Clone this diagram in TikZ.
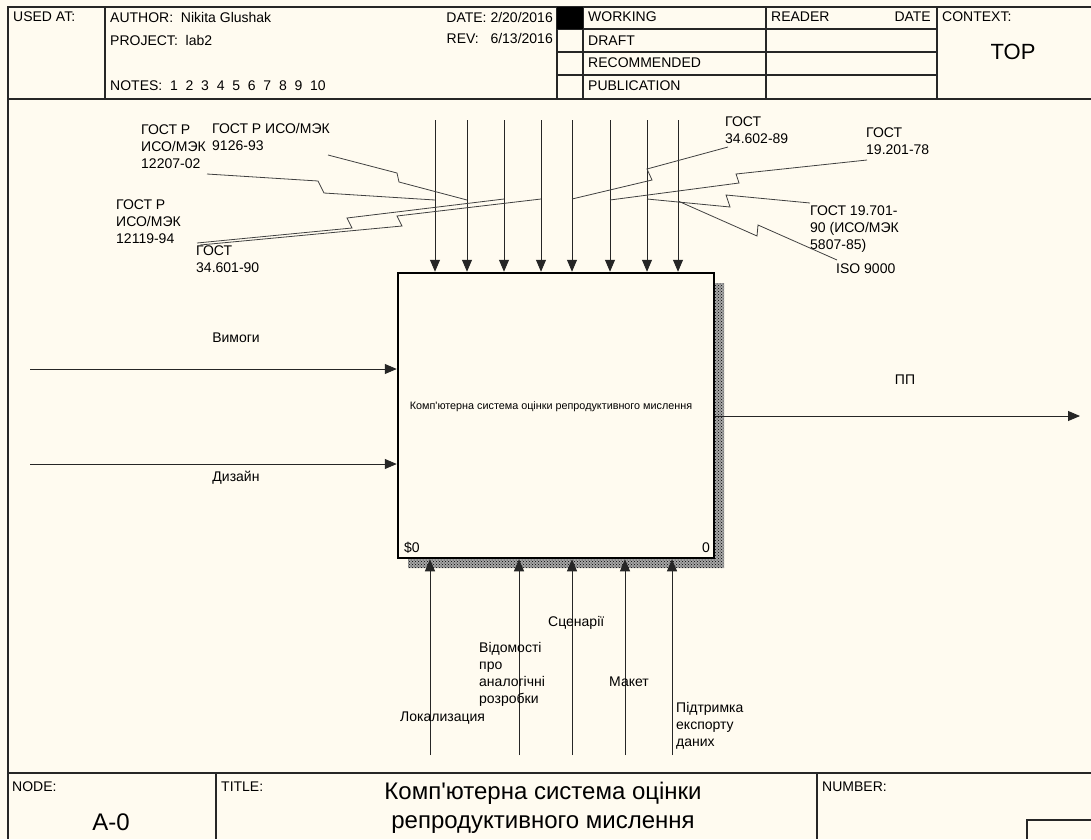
\documentclass[tikz,border=0pt]{standalone}
\usepackage{fontspec}
\setmainfont{Liberation Sans}
\usetikzlibrary{arrows.meta,patterns}
\definecolor{paper}{HTML}{FFFBF0}
\tikzset{
  frame/.style={line width=1.2pt, black!85},
  txt/.style={font=\fontsize{14}{17}\selectfont, inner sep=0pt},
  lbl/.style={txt, align=left, anchor=north west},
  arr/.style={->, line width=0.9pt, black!85},
  sq/.style={line width=0.8pt, black!75},
  fnbox/.style={draw, line width=2.5pt, fill=paper, minimum width=316pt, minimum height=285pt, inner sep=0pt},
}
\begin{document}
\begin{tikzpicture}[x=1pt, y=-1pt, >={Triangle[length=12pt,width=10pt]}]
\fill[paper] (0,0) rectangle (1091,839);
\useasboundingbox (0,0) rectangle (1091,839);

% frame
\draw[frame] (1091,7) -- (8,7) -- (8,839);
\draw[frame] (8,99) -- (1091,99);
\draw[frame] (8,773) -- (1091,773);
\foreach \x in {105,557,583,766,937} \draw[frame] (\x,7) -- (\x,99);
\foreach \y in {29,52,75} \draw[frame] (557,\y) -- (937,\y);
\fill (557,7) rectangle (583,29);
\foreach \x in {216,817} \draw[frame] (\x,773) -- (\x,839);
\draw[frame] (1091,820) -- (1027,820) -- (1027,839);

% header
\node[txt, anchor=west] (usedat) at (13,17) {USED AT:};
\node[txt, anchor=west] (author) at (110,17) {AUTHOR:\ \ Nikita Glushak};
\node[txt, anchor=west] (project) at (110,40) {PROJECT:\ \ lab2};
\node[txt, anchor=west] (notes) at (110,86) {NOTES:\ \ 1\ \ 2\ \ 3\ \ 4\ \ 5\ \ 6\ \ 7\ \ 8\ \ 9\ \ 10};
\node[txt, anchor=east] (date) at (553,17) {DATE: 2/20/2016};
\node[txt, anchor=east] (rev) at (553,38) {REV:\ \ \ 6/13/2016};
\node[txt, anchor=west] (working) at (588,17) {WORKING};
\node[txt, anchor=west] (draft) at (588,41) {DRAFT};
\node[txt, anchor=west] (recom) at (588,63) {RECOMMENDED};
\node[txt, anchor=west] (publ) at (588,86) {PUBLICATION};
\node[txt, anchor=west] (reader) at (771,17) {READER};
\node[txt, anchor=east] (rdate) at (931,17) {DATE};
\node[txt, anchor=west] (context) at (942,17) {CONTEXT:};
\node[inner sep=0pt, font=\fontsize{22}{24}\selectfont] (top) at (1013,52) {TOP};

% footer
\node[txt, anchor=west] (nodelbl) at (12,787) {NODE:};
\node[inner sep=0pt, font=\fontsize{24}{28}\selectfont] (nodeno) at (111,822) {A-0};
\node[txt, anchor=west] (titlelbl) at (221,787) {TITLE:};
\node[inner sep=0pt, align=center, font=\fontsize{24}{29}\selectfont] (title) at (543,808) {Комп\textquotesingle ютерна система оцінки\\репродуктивного мислення};
\node[txt, anchor=west] (numlbl) at (822,787) {NUMBER:};

% function box
\fill[black!35] (408,558) rectangle (724,568) (714,283) rectangle (724,568);
\fill[pattern=crosshatch dots, pattern color=black] (408,558) rectangle (724,568) (714,283) rectangle (724,568);
\node[fnbox] (fn) at (556,415.5) {};
\node[inner sep=0pt, font=\fontsize{10.8}{12}\selectfont] (fntxt) at (551,407) {Комп\textquotesingle ютерна система оцінки репродуктивного мислення};
\node[txt, anchor=west] (fnid) at (404,548) {\$0};
\node[txt, anchor=east] (fnno) at (710,548) {0};

% controls
\foreach \x [count=\i] in {435,467,504,541,572,610,647,678} {
  \coordinate (c\i) at (\x,120);
  \draw[arr] (c\i) -- (c\i |- fn.north);
}
% mechanisms
\foreach \x [count=\i] in {430,519,572,625,672} {
  \coordinate (m\i) at (\x,755);
  \draw[arr] (m\i) -- (m\i |- fn.south);
}
% inputs, output
\coordinate (in1) at (30,369);
\coordinate (in2) at (30,464);
\coordinate (out1) at (1080,416);
\draw[arr] (in1) -- (in1 -| fn.west);
\draw[arr] (in2) -- (in2 -| fn.west);
\draw[arr] (out1 -| fn.east) -- (out1);
\node[txt] (vymogy) at (236,338) {Вимоги};
\node[txt] (dyzain) at (236,478) {Дизайн};
\node[txt] (pp) at (905,380) {ПП};

% mechanism labels
\node[lbl] (lok) at (400,712) {Локализация};
\node[lbl] (vidom) at (479,642) {Відомості\\про\\аналогічні\\розробки};
\node[lbl] (scen) at (548,616) {Сценарії};
\node[lbl] (maket) at (609,677) {Макет};
\node[lbl] (pidtr) at (676,702) {Підтримка\\експорту\\даних};

% control labels
\node[lbl] (g1) at (141,125) {ГОСТ Р\\ИСО/МЭК\\12207-02};
\node[lbl] (g2) at (212,123) {ГОСТ Р ИСО/МЭК\\9126-93};
\node[lbl] (g3) at (116,200) {ГОСТ Р\\ИСО/МЭК\\12119-94};
\node[lbl] (g4) at (196,246) {ГОСТ\\34.601-90};
\node[lbl] (g5) at (725,117) {ГОСТ\\34.602-89};
\node[lbl] (g6) at (866,128) {ГОСТ\\19.201-78};
\node[lbl] (g7) at (810,206) {ГОСТ 19.701-\\90 (ИСО/МЭК\\5807-85)};
\node[lbl] (g8) at (836,264) {ISO 9000};

\coordinate (s1) at (207,174);
\coordinate (s2) at (328,155);
\coordinate (s3) at (197,243);
\coordinate (s4) at (200,245);
\coordinate (s5) at (728,147);
\coordinate (s6) at (867,160);
\coordinate (s7) at (810,203);
\coordinate (s8) at (837,260);
\coordinate (j1) at (435,200);
\coordinate (j2) at (467,200);
\coordinate (j3) at (504,199);
\coordinate (j4) at (541,199);
\coordinate (j5) at (572,199);
\coordinate (j6) at (610,200);
\coordinate (j7) at (647,199);
\coordinate (j8) at (678,201);
\draw[sq] (s1) -- (318,181) -- (324,193) -- (j1);
\draw[sq] (s2) -- (397,173) -- (399,182) -- (j2);
\draw[sq] (s3) -- (352,228) -- (347,218) -- (j3);
\draw[sq] (s4) -- (402,226) -- (397,216) -- (j4);
\draw[sq] (s5) -- (647,169) -- (652,180) -- (j5);
\draw[sq] (s6) -- (736,174) -- (739,183) -- (j6);
\draw[sq] (s7) -- (726,195) -- (730,207) -- (j7);
\draw[sq] (s8) -- (758,225) -- (757,236) -- (j8);
\end{tikzpicture}
\end{document}
